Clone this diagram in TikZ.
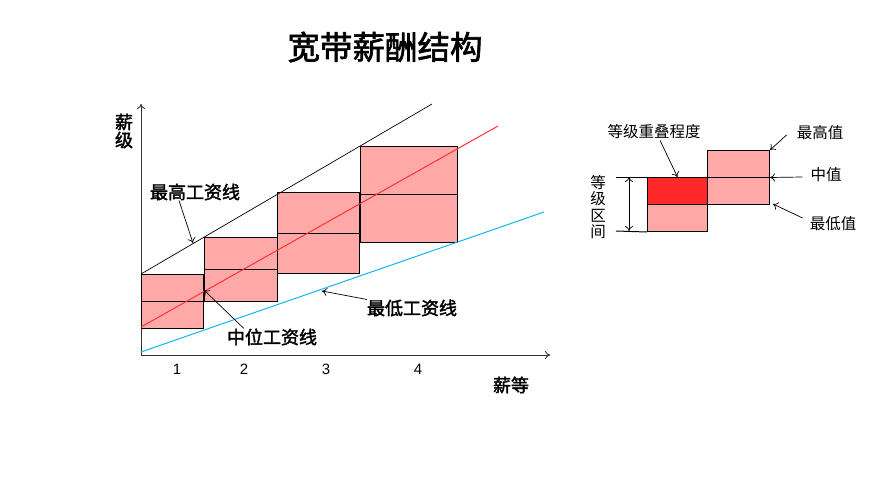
\documentclass[tikz,border=0pt]{standalone}
\usepackage{fontspec}
\setmainfont{Liberation Sans}
\newfontfamily\cjk{Noto Sans CJK SC}
\newfontfamily\cjkb{Noto Sans CJK SC}[FakeBold=2]
\usetikzlibrary{positioning}
\usetikzlibrary{calc,arrows.meta}

\definecolor{boxpink}{RGB}{255,168,168}
\definecolor{boxred}{RGB}{255,40,40}
\definecolor{midred}{RGB}{255,50,50}
\definecolor{lowblue}{RGB}{20,180,240}

\begin{document}
\begin{tikzpicture}
	[   x=1pt,y=-1pt,
		band/.style={draw=black,fill=#1,line width=1pt,inner sep=0pt,anchor=north west},
		lbl/.style={font=\cjkb\fontsize{18}{18}\selectfont,inner sep=0pt},
		note/.style={font=\cjk\fontsize{15.5}{16.3}\selectfont,inner sep=0pt},
	]
	\tikzset{normal arrow/.style={draw,-{To[length=5pt,width=8pt]},line width=0.7pt}}
	\useasboundingbox (0,0) rectangle (871,477);
	
	\node[font=\cjkb\fontsize{32.5}{33}\selectfont] (title) at (385,47) {宽带薪酬结构};
	
	% axes
	\coordinate (o) at (141,355);
	\coordinate (ytop) at (141,104);
	\coordinate (xend) at (550,355);
	\draw[normal arrow,black!80,line width=0.9pt] (o) -- (ytop);
	\draw[normal arrow,black!80,line width=0.9pt] (o) -- (xend);
	\node[lbl,align=center] (ylab) at (124,131) {薪\\级};
	\node[lbl] (xlab) at (511,385) {薪等};
	
	% salary bands
	\node[band=boxpink,minimum width=62pt,minimum height=54pt] (b-1) at (141,274) {};
	\node[band=boxpink,minimum width=73pt,minimum height=64pt] (b-2) at (204,237) {};
	\node[band=boxpink,minimum width=82pt,minimum height=81pt] (b-3) at (277,192) {};
	\node[band=boxpink,minimum width=97pt,minimum height=96pt] (b-4) at (360,146) {};
	\foreach \i in {1,...,4}
	{
		\draw[line width=1pt] (b-\i.west) -- (b-\i.east);
	}
	\foreach \i/\x in {1/177,2/244,3/326,4/418}
	{
		\node[font=\fontsize{15}{15}\selectfont] (t-\i) at (\x,369) {\i};
	}
	
	% pay lines
	\coordinate (hi-a) at (141,274);
	\coordinate (hi-b) at (432,104);
	\coordinate (md-a) at (141,327);
	\coordinate (md-b) at (498,126);
	\coordinate (lo-a) at (141,352);
	\coordinate (lo-b) at (544,212);
	\draw[black,line width=0.7pt] (hi-a) -- (hi-b);
	\draw[midred,line width=1pt] (md-a) -- (md-b);
	\draw[lowblue,line width=1pt] (lo-a) -- (lo-b);
	
	\node[lbl] (lb-hi) at (195,192) {最高工资线};
	\node[lbl] (lb-md) at (272,337) {中位工资线};
	\node[lbl] (lb-lo) at (412,308) {最低工资线};
	\coordinate (hi-p) at (193,243);
	\coordinate (md-p) at (204,290);
	\coordinate (lo-p) at (322,291);
	\path[normal arrow] ([xshift=-16pt]lb-hi.south) -- (hi-p);
	\path[normal arrow] ([xshift=17pt]lb-md.north west) -- (md-p);
	\path[normal arrow] (lb-lo.north west) -- (lo-p);
	
	% overlap sketch
	\node[band=boxred,minimum width=60pt,minimum height=27pt] (ov-t) at (647,177) {};
	\node[band=boxpink,minimum width=60pt,minimum height=27pt] (ov-b) at (647,204) {};
	\node[band=boxpink,minimum width=62pt,minimum height=54pt] (rb) at (707,150) {};
	\draw[line width=1pt] (rb.west) -- (rb.east);
	\coordinate (rg-t) at (616,177);
	\coordinate (rg-b) at (616,231);
	\draw[line width=1pt] (rg-t) -- (ov-t.north west);
	\draw[line width=1pt] (rg-b) -- (ov-b.south west);
	\coordinate (ar-t) at (629,177);
	\coordinate (ar-b) at (629,231);
	\draw[{To[length=5pt,width=8pt]}-{To[length=5pt,width=8pt]},line width=0.7pt] (ar-t) -- (ar-b);
	\node[note,align=center] (rg-lab) at (598,207) {等\\级\\区\\间};
	
	\node[note] (lb-ov) at (654,132) {等级重叠程度};
	\node[note] (lb-max) at (820,133) {最高值};
	\node[note] (lb-med) at (826,175) {中值};
	\node[note] (lb-min) at (833,224) {最低值};
	\coordinate (max-p) at (770,150);
	\coordinate (min-p) at (773,204);
	\path[normal arrow] ([xshift=6pt,yshift=-1pt]lb-ov.south) -- (ov-t.north);
	\path[normal arrow] ([xshift=-10pt,yshift=-2pt]lb-max.west) -- (max-p);
	\path[normal arrow] ([xshift=-8pt,yshift=-2pt]lb-med.west) -- (rb.east);
	\path[normal arrow] ([xshift=-7pt,yshift=6pt]lb-min.west) -- (min-p);
\end{tikzpicture}
\end{document}
